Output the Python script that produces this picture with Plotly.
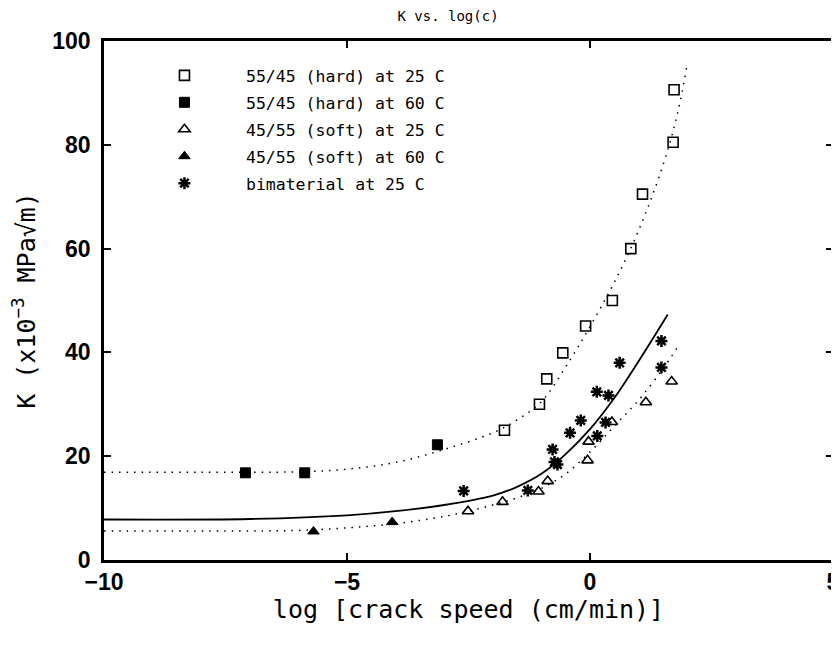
import plotly.graph_objects as go

# ---- data ----
hard25_x = [-1.76, -1.04, -0.89, -0.56, -0.09, 0.46, 0.84, 1.08, 1.71, 1.73]
hard25_y = [25.0, 30.0, 34.9, 39.9, 45.1, 50.0, 60.0, 70.5, 80.5, 90.6]

hard60_x = [-7.09, -5.87, -3.14]
hard60_y = [16.8, 16.8, 22.2]

soft25_x = [-2.51, -1.80, -1.06, -0.87, -0.05, -0.03, 0.45, 1.15, 1.68]
soft25_y = [9.4, 11.2, 13.2, 15.2, 19.2, 22.8, 26.6, 30.4, 34.4]

soft60_x = [-5.69, -4.07]
soft60_y = [5.5, 7.3]

bimat_x = [-2.60, -1.28, -0.77, -0.73, -0.67, -0.41, -0.19, 0.15, 0.32, 0.14, 0.38, 0.61, 1.47, 1.47]
bimat_y = [13.3, 13.4, 21.3, 18.9, 18.4, 24.5, 26.9, 23.9, 26.5, 32.4, 31.7, 38.0, 42.2, 37.1]

# fitted curves
hardfit_x = [-10, -8, -6, -5, -4, -3, -2, -1.5, -1, -0.5, 0, 0.5, 1.0, 1.5, 1.8, 2.0]
hardfit_y = [16.9, 16.9, 17.0, 17.5, 18.8, 21.3, 24.5, 27.0, 30.5, 37.2, 45.0, 53.5, 63.5, 76.0, 86.0, 95.5]

bimfit_x = [-10, -7, -5, -4, -3, -2, -1.5, -1, -0.5, 0, 0.5, 1.0, 1.6]
bimfit_y = [7.8, 7.9, 8.6, 9.4, 10.6, 12.4, 14.1, 16.6, 20.4, 25.2, 31.2, 38.3, 47.3]

softfit_x = [-10, -7, -6, -5, -4, -3, -2.5, -2, -1.5, -1, -0.5, 0, 0.5, 1.0, 1.5, 1.8]
softfit_y = [5.6, 5.6, 5.7, 6.2, 7.0, 8.4, 9.4, 10.6, 12.0, 13.8, 16.6, 20.8, 25.8, 30.8, 36.8, 41.0]

x_ticks = [-10, -5, 0, 5]
y_ticks = [0, 20, 40, 60, 80, 100]

names = ["55/45 (hard) at 25 C", "55/45 (hard) at 60 C", "45/55 (soft) at 25 C",
         "45/55 (soft) at 60 C", "bimaterial at 25 C"]

fig = go.Figure()

dotted = "1.5px,6px"
fig.add_trace(go.Scatter(x=hardfit_x, y=hardfit_y, mode="lines", line=dict(color="black", width=1.5, dash=dotted, shape="spline"),
                         showlegend=False, hoverinfo="skip"))
fig.add_trace(go.Scatter(x=softfit_x, y=softfit_y, mode="lines", line=dict(color="black", width=1.5, dash=dotted, shape="spline"),
                         showlegend=False, hoverinfo="skip"))
fig.add_trace(go.Scatter(x=bimfit_x, y=bimfit_y, mode="lines", line=dict(color="black", width=1.8, shape="spline"),
                         showlegend=False, hoverinfo="skip"))

series = [
    (hard25_x, hard25_y, "square-open", 10, 1.6),
    (hard60_x, hard60_y, "square", 10, 1),
    (soft25_x, soft25_y, "triangle-up-open", 10, 1.6),
    (soft60_x, soft60_y, "triangle-up", 10, 1),
    (bimat_x, bimat_y, "asterisk", 10, 2.5),
]
for i, (xs, ys, sym, sz, lw) in enumerate(series):
    fig.add_trace(go.Scatter(
        x=xs, y=ys, mode="markers", name=names[i], legendgroup=f"g{i}",
        marker=dict(symbol=sym, size=sz, color="black", line=dict(color="black", width=lw)),
    ))

axis_common = dict(showline=True, linecolor="black", linewidth=2.5, mirror="ticks",
                   ticks="inside", ticklen=7, tickwidth=2, tickcolor="black",
                   showgrid=False, zeroline=False)

fig.update_layout(
    width=839, height=645,
    paper_bgcolor="white", plot_bgcolor="white",
    margin=dict(l=96, r=7, t=33, b=93),
    title=dict(text="K vs. log(c)", x=440/839, xanchor="center", xref="container",
               y=1 - 8/645, yanchor="middle", yref="container",
               font=dict(family="DejaVu Sans Mono", size=14, color="black")),
    xaxis=dict(range=[-10, 5], tickvals=x_ticks, ticktext=[str(v).replace("-", "\u2212") for v in x_ticks],
               tickfont=dict(family="Liberation Sans", size=23, color="black", weight="bold"),
               title=dict(text="log [crack speed (cm/min)]", standoff=6,
                          font=dict(family="DejaVu Sans Mono", size=25, color="black")),
               **axis_common),
    yaxis=dict(range=[0, 100], tickvals=y_ticks, ticktext=[str(v) for v in y_ticks],
               tickfont=dict(family="Liberation Sans", size=23, color="black", weight="bold"),
               ticklabelstandoff=6,
               title=dict(text="K (x10<sup>\u22123</sup> MPa\u221Am)", standoff=12,
                          font=dict(family="DejaVu Sans Mono", size=25, color="black")),
               **axis_common),
    legend=dict(x=0.026, y=0.967, xanchor="left", yanchor="top", bgcolor="rgba(0,0,0,0)",
                itemwidth=113, tracegroupgap=2.5,
                font=dict(family="DejaVu Sans Mono", size=16.5, color="black")),
)

fig.write_html("out.html")
